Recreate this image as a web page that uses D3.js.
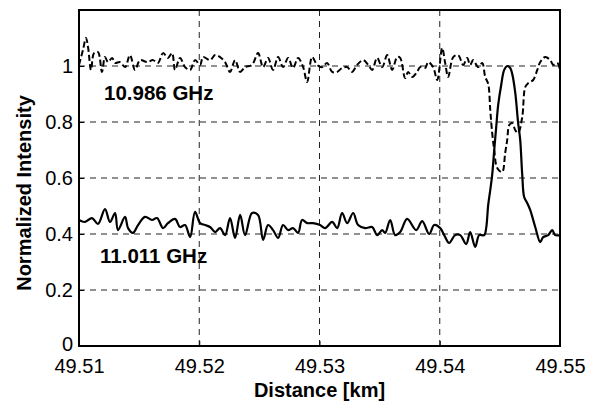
<!DOCTYPE html>
<html>
<head>
<meta charset="utf-8">
<script src="https://cdn.jsdelivr.net/npm/d3@7"></script>
<style>
  body { margin: 0; background: #fff; }
  svg { display: block; font-family: "Liberation Sans", Arial, sans-serif; }
</style>
</head>
<body>
<div id="chart_root"></div>
<script>
// 10.986 GHz trace (dashed)
const distA = [
  49.51000, 49.51033, 49.51058, 49.51075, 49.51100, 49.51125, 49.51158, 49.51191, 49.51216, 49.51241,
  49.51275, 49.51300, 49.51341, 49.51383, 49.51424, 49.51466, 49.51508, 49.51566, 49.51616, 49.51657,
  49.51699, 49.51740, 49.51774, 49.51799, 49.51840, 49.51882, 49.51924, 49.51965, 49.52007, 49.52032,
  49.52090, 49.52132, 49.52173, 49.52215, 49.52256, 49.52298, 49.52340, 49.52381, 49.52439, 49.52489,
  49.52531, 49.52572, 49.52614, 49.52656, 49.52697, 49.52739, 49.52780, 49.52822, 49.52864, 49.52897,
  49.52939, 49.52980, 49.53022, 49.53063, 49.53105, 49.53147, 49.53188, 49.53230, 49.53271, 49.53313,
  49.53363, 49.53405, 49.53438, 49.53479, 49.53521, 49.53563, 49.53604, 49.53646, 49.53671, 49.53712,
  49.53737, 49.53771, 49.53812, 49.53837, 49.53879, 49.53904, 49.53945, 49.53979, 49.54020, 49.54045,
  49.54070, 49.54112, 49.54153, 49.54195, 49.54228, 49.54253, 49.54278, 49.54320, 49.54353, 49.54378,
  49.54403, 49.54420, 49.54436, 49.54453, 49.54478, 49.54519, 49.54544, 49.54561, 49.54578, 49.54603,
  49.54628, 49.54652, 49.54686, 49.54711, 49.54736, 49.54777, 49.54811, 49.54836, 49.54877, 49.54919,
  49.54944, 49.54977, 49.55000
];
const intensityA = [
  1.004, 1.057, 1.100, 1.068, 0.986, 1.046, 1.050, 0.979, 1.032, 1.014,
  1.029, 1.011, 1.014, 0.996, 1.039, 0.986, 1.021, 1.014, 1.021, 1.011,
  1.046, 1.029, 1.046, 0.986, 1.029, 0.996, 0.986, 1.021, 1.004, 1.032,
  1.021, 1.039, 1.032, 1.014, 0.979, 1.021, 0.979, 0.996, 1.004, 1.046,
  0.996, 1.029, 0.986, 1.032, 0.996, 1.029, 0.993, 1.029, 0.996, 0.943,
  1.032, 1.004, 0.996, 1.011, 0.979, 0.979, 0.993, 0.996, 0.979, 1.004,
  1.021, 1.004, 0.986, 1.029, 0.996, 1.039, 0.986, 1.032, 1.029, 0.957,
  0.979, 0.961, 0.979, 0.996, 0.993, 1.014, 0.996, 0.950, 1.064, 1.011,
  0.961, 1.032, 1.039, 1.004, 1.029, 1.004, 1.021, 0.996, 1.011, 0.961,
  0.936, 0.843, 0.761, 0.700, 0.636, 0.621, 0.689, 0.736, 0.789, 0.796,
  0.771, 0.761, 0.818, 0.925, 0.939, 0.950, 0.986, 1.014, 1.032, 1.021,
  1.004, 1.011, 0.986
];

// 11.011 GHz trace (solid)
const distB = [
  49.51000, 49.51050, 49.51108, 49.51158, 49.51216, 49.51258, 49.51300, 49.51324, 49.51383, 49.51408,
  49.51449, 49.51491, 49.51549, 49.51607, 49.51649, 49.51699, 49.51740, 49.51799, 49.51840, 49.51882,
  49.51924, 49.51965, 49.52007, 49.52048, 49.52090, 49.52132, 49.52173, 49.52215, 49.52256, 49.52298,
  49.52340, 49.52381, 49.52439, 49.52489, 49.52531, 49.52572, 49.52614, 49.52656, 49.52697, 49.52739,
  49.52780, 49.52822, 49.52855, 49.52897, 49.52947, 49.53005, 49.53047, 49.53105, 49.53147, 49.53188,
  49.53230, 49.53280, 49.53321, 49.53380, 49.53438, 49.53479, 49.53521, 49.53546, 49.53588, 49.53629,
  49.53671, 49.53729, 49.53804, 49.53854, 49.53912, 49.53954, 49.54004, 49.54037, 49.54078, 49.54128,
  49.54170, 49.54220, 49.54253, 49.54295, 49.54328, 49.54370, 49.54386, 49.54403, 49.54420, 49.54436,
  49.54453, 49.54469, 49.54486, 49.54511, 49.54536, 49.54561, 49.54586, 49.54603, 49.54628, 49.54652,
  49.54669, 49.54686, 49.54702, 49.54727, 49.54752, 49.54794, 49.54836, 49.54860, 49.54902, 49.54935,
  49.54960, 49.55000
];
const intensityB = [
  0.450, 0.443, 0.457, 0.436, 0.489, 0.443, 0.475, 0.414, 0.461, 0.421,
  0.404, 0.432, 0.461, 0.450, 0.457, 0.421, 0.439, 0.454, 0.425, 0.432,
  0.389, 0.479, 0.439, 0.432, 0.425, 0.407, 0.421, 0.396, 0.457, 0.386,
  0.468, 0.396, 0.475, 0.468, 0.379, 0.432, 0.414, 0.386, 0.432, 0.414,
  0.421, 0.404, 0.450, 0.439, 0.439, 0.432, 0.421, 0.443, 0.421, 0.475,
  0.439, 0.475, 0.432, 0.421, 0.425, 0.396, 0.414, 0.404, 0.450, 0.396,
  0.407, 0.454, 0.414, 0.446, 0.400, 0.432, 0.421, 0.396, 0.368, 0.396,
  0.396, 0.364, 0.407, 0.354, 0.396, 0.396, 0.421, 0.504, 0.557, 0.611,
  0.700, 0.779, 0.861, 0.932, 0.986, 1.000, 0.993, 0.971, 0.904, 0.796,
  0.736, 0.611, 0.532, 0.511, 0.486, 0.425, 0.371, 0.389, 0.396, 0.414,
  0.396, 0.396
];

const xTicks = [49.51, 49.52, 49.53, 49.54, 49.55];
const yTicks = [0, 0.2, 0.4, 0.6, 0.8, 1];
const yTickLabels = ["0", "0.2", "0.4", "0.6", "0.8", "1"];
const traceLabels = ["10.986 GHz", "11.011 GHz"];
const labelDist = [49.51208, 49.51175];
const labelIntensity = [0.879, 0.296];

const margin = { top: 10, right: 40, bottom: 60, left: 79 };
const width = 600 - margin.left - margin.right;
const height = 406 - margin.top - margin.bottom;

const svg = d3.select("#chart_root")
    .append("svg")
    .attr("width", 600)
    .attr("height", 406)
    .append("g")
    .attr("transform", "translate(" + margin.left + "," + margin.top + ")");

const x = d3.scaleLinear().domain([49.51, 49.55]).range([0, width]);
const y = d3.scaleLinear().domain([0, 1.2]).range([height, 0]);

// grid
svg.append("g")
    .selectAll("line")
    .data(xTicks.slice(1, -1))
    .enter()
    .append("line")
    .attr("x1", d => x(d)).attr("x2", d => x(d))
    .attr("y1", 0).attr("y2", height)
    .attr("stroke", "#222")
    .attr("stroke-width", 1)
    .attr("stroke-dasharray", "6,5");
svg.append("g")
    .selectAll("line")
    .data(yTicks.slice(1))
    .enter()
    .append("line")
    .attr("x1", 0).attr("x2", width)
    .attr("y1", d => y(d)).attr("y2", d => y(d))
    .attr("stroke", "#222")
    .attr("stroke-width", 1)
    .attr("stroke-dasharray", "6,5");

// axes
const xAxis = svg.append("g")
    .attr("transform", "translate(0," + height + ")")
    .call(d3.axisBottom(x).tickValues(xTicks).tickFormat(d3.format(".2f"))
        .tickSizeInner(-5).tickSizeOuter(0).tickPadding(13));
const yAxis = svg.append("g")
    .call(d3.axisLeft(y).tickValues(yTicks).tickFormat((d, i) => yTickLabels[i])
        .tickSizeInner(-5).tickSizeOuter(0).tickPadding(6));
[xAxis, yAxis].forEach(a => {
    a.select(".domain").remove();
    a.selectAll("text").attr("font-size", 20).attr("fill", "#000")
        .attr("font-family", "'Liberation Sans', Arial, sans-serif");
    a.selectAll("line").attr("stroke", "#000");
});
yAxis.selectAll("text").filter(d => d === 0).attr("dy", "0.2em");

// frame
svg.append("rect")
    .attr("x", 0).attr("y", 0)
    .attr("width", width).attr("height", height)
    .attr("fill", "none")
    .attr("stroke", "#000")
    .attr("stroke-width", 2);

const line = d3.line()
    .x(d => x(d[0]))
    .y(d => y(d[1]))
    .curve(d3.curveCatmullRom.alpha(0.5));

svg.append("path")
    .datum(d3.zip(distA, intensityA))
    .attr("d", line)
    .attr("fill", "none")
    .attr("stroke", "#000")
    .attr("stroke-width", 2)
    .attr("stroke-dasharray", "6,3");

svg.append("path")
    .datum(d3.zip(distB, intensityB))
    .attr("d", line)
    .attr("fill", "none")
    .attr("stroke", "#000")
    .attr("stroke-width", 2.2);

svg.append("g")
    .selectAll("text")
    .data(traceLabels)
    .enter()
    .append("text")
    .attr("x", (d, i) => x(labelDist[i]))
    .attr("y", (d, i) => y(labelIntensity[i]))
    .attr("font-size", 20.5)
    .attr("font-weight", "bold")
    .text(d => d);

svg.append("text")
    .attr("text-anchor", "middle")
    .attr("x", width / 2)
    .attr("y", height + 51)
    .attr("font-size", 20)
    .attr("font-weight", "bold")
    .text("Distance [km]");

svg.append("text")
    .attr("text-anchor", "middle")
    .attr("transform", "translate(" + (-48) + "," + (183) + ") rotate(-90)")
    .attr("font-size", 20)
    .attr("font-weight", "bold")
    .text("Normalized Intensity");
</script>
</body>
</html>
